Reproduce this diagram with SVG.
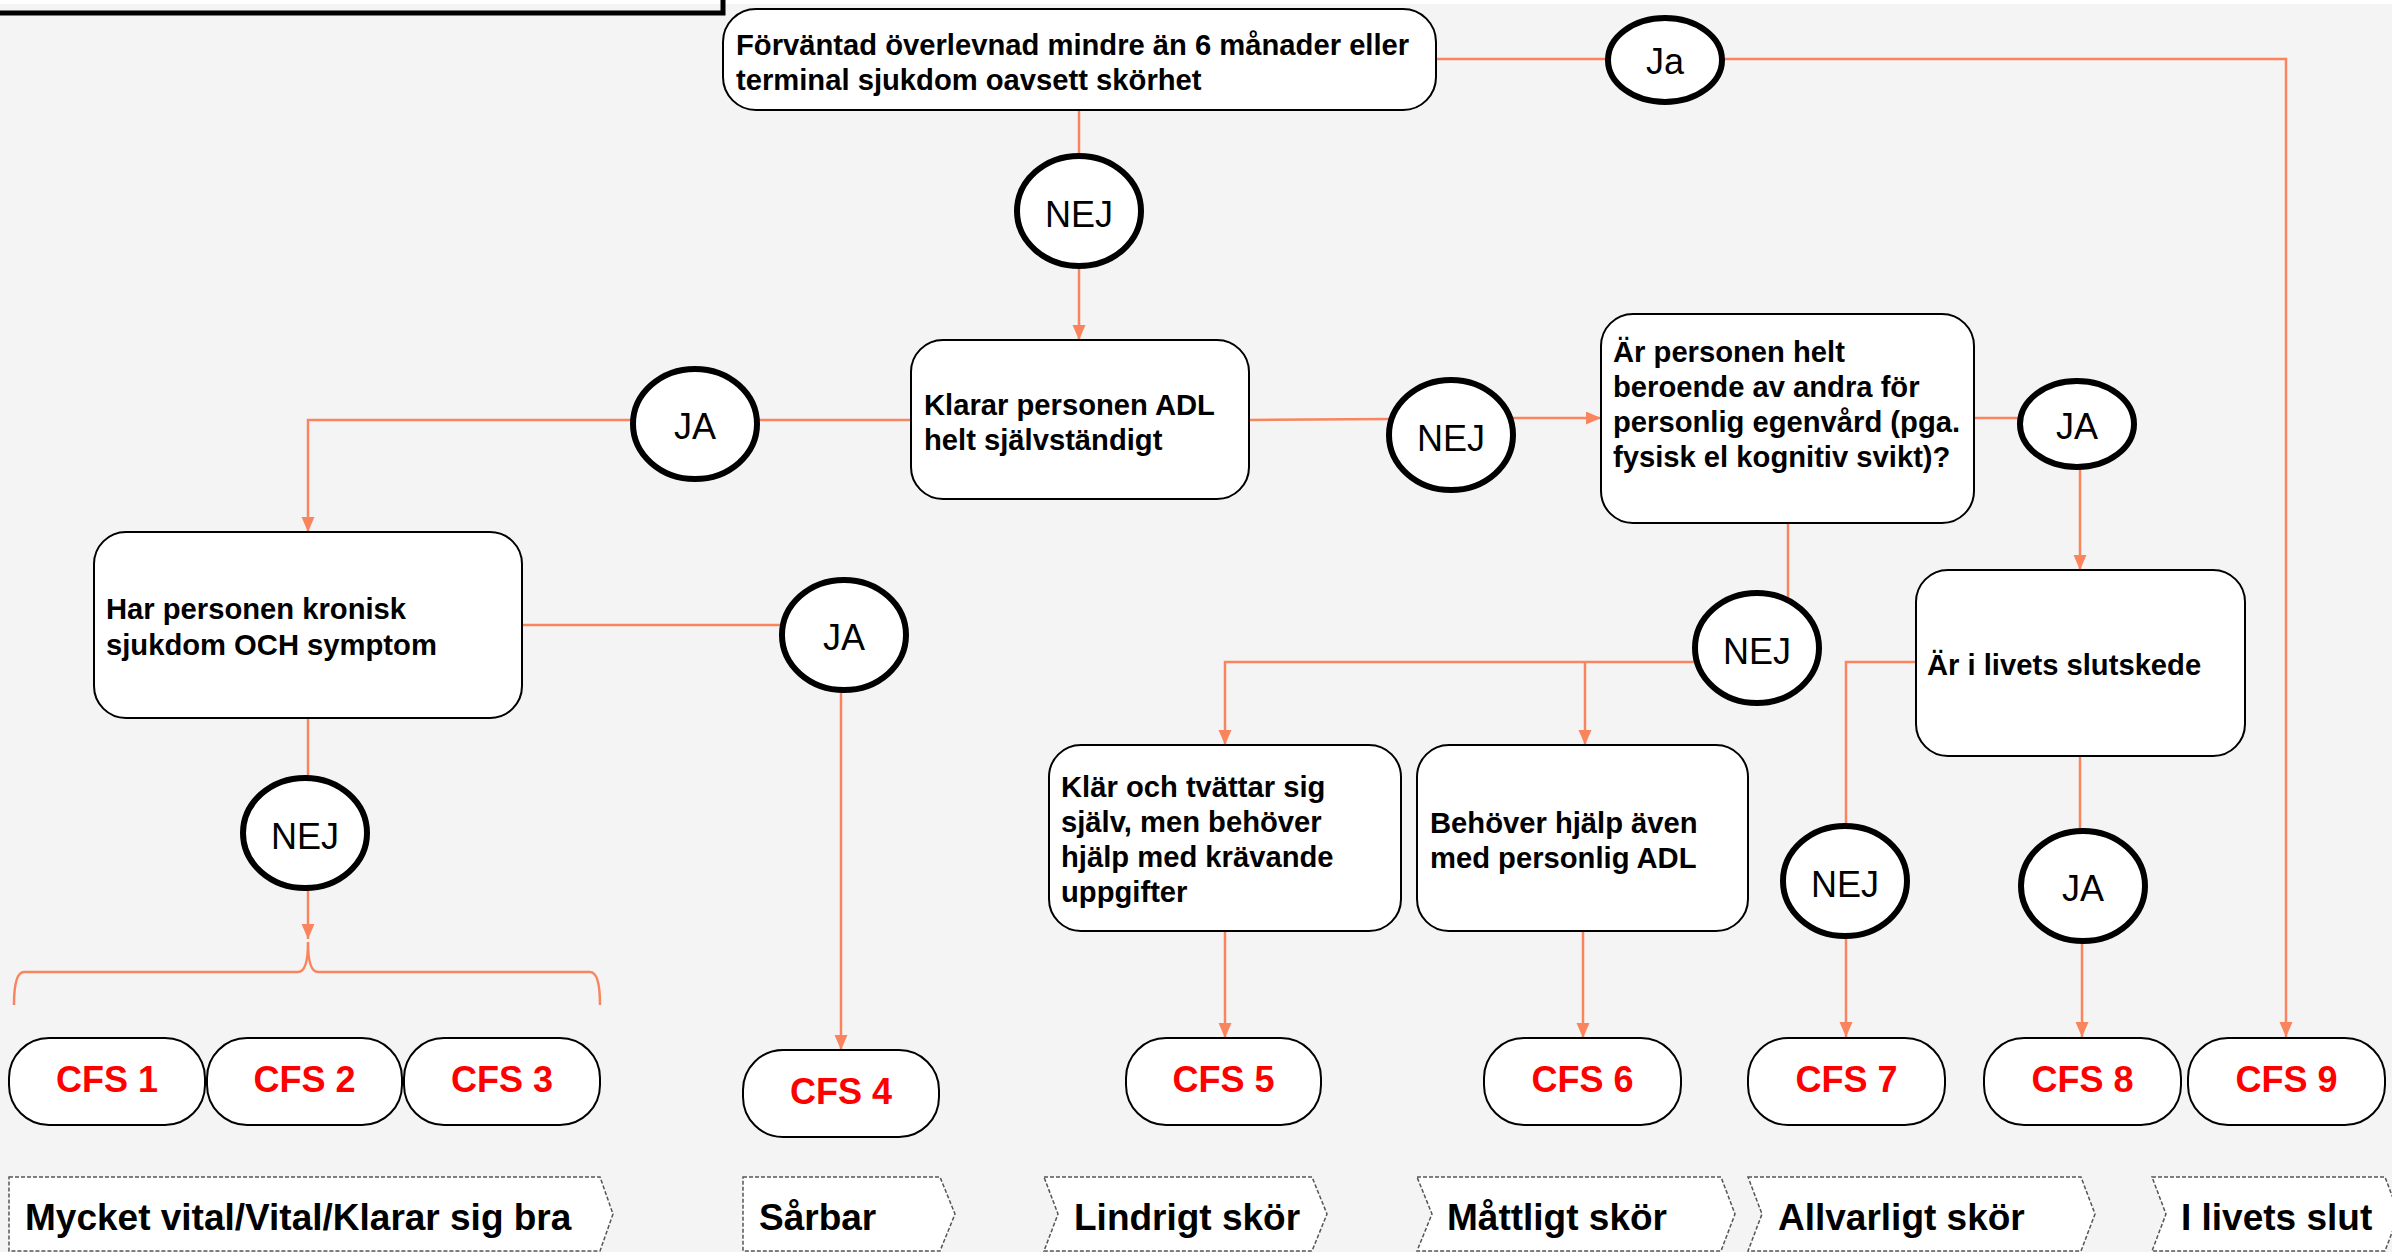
<svg xmlns="http://www.w3.org/2000/svg" width="2392" height="1252" viewBox="0 0 2392 1252">
<defs>
<marker id="arr" markerUnits="userSpaceOnUse" markerWidth="16" markerHeight="14" refX="15" refY="6.5" orient="auto">
<path d="M0,0 L15,6.5 L0,13 z" fill="#f9845d"/>
</marker>
<style>
.bg{fill:#f4f4f4}
.box{fill:#fff;stroke:#000;stroke-width:2}
.cir{fill:#fff;stroke:#000;stroke-width:6}
.t{font-family:"Liberation Sans",Arial,sans-serif;font-weight:bold;font-size:29.2px;fill:#000}
.ct{font-family:"Liberation Sans",Arial,sans-serif;font-size:36px;fill:#000;text-anchor:middle}
.cfs{font-family:"Liberation Sans",Arial,sans-serif;font-weight:bold;font-size:36px;fill:#ff0000;text-anchor:middle}
.lab{fill:#fff;stroke:#555;stroke-width:1.5;stroke-dasharray:4 2}
.lt{font-family:"Liberation Sans",Arial,sans-serif;font-weight:bold;font-size:37px;fill:#000}
.c{fill:none;stroke:#f9845d;stroke-width:2.5}
.ca{fill:none;stroke:#f9845d;stroke-width:2.5;marker-end:url(#arr)}
</style>
</defs>
<rect class="bg" x="0" y="0" width="2392" height="1252"/>
<rect x="0" y="0" width="2392" height="4" fill="#fff"/>
<rect x="-20" y="-40" width="743" height="53" fill="none" stroke="#000" stroke-width="5"/>

<g id="connectors">
<path class="c" d="M1079,110 V156"/>
<path class="ca" d="M1079,267 V340"/>
<path class="c" d="M1436,59 H1607"/>
<path class="ca" d="M1723,59 H2286 V1037"/>
<path class="c" d="M911,420 H757"/>
<path class="ca" d="M632,420 H308 V532"/>
<path class="c" d="M1249,420 L1390,419"/>
<path class="ca" d="M1512,418 H1601"/>
<path class="c" d="M1974,418 H2021"/>
<path class="ca" d="M2080,467 V570"/>
<path class="c" d="M1788,523 V600"/>
<path class="ca" d="M1697,662 H1225 V745"/>
<path class="ca" d="M1585,662 V745"/>
<path class="c" d="M1916,662 H1846 V826"/>
<path class="ca" d="M1846,936 V1037"/>
<path class="c" d="M2080,756 V831"/>
<path class="ca" d="M2082,941 V1037"/>
<path class="c" d="M522,625 H782"/>
<path class="ca" d="M841,690 V1050"/>
<path class="c" d="M308,718 V778"/>
<path class="ca" d="M308,888 V939"/>
<path class="ca" d="M1225,931 V1038"/>
<path class="ca" d="M1583,931 V1038"/>
<path class="c" stroke-width="2" d="M14,1005 Q14,972 24,972 L298,972 Q308,972 308,942 Q308,972 318,972 L590,972 Q600,972 600,1005"/>
</g>

<g id="n-forvantad">
<rect class="box" x="723" y="9" width="713" height="101" rx="33"/>
<text class="t" x="736" y="54.5">Förväntad överlevnad mindre än 6 månader eller</text>
<text class="t" x="736" y="89.5">terminal sjukdom oavsett skörhet</text>
</g>
<g id="c-ja-top"><ellipse class="cir" cx="1665" cy="60" rx="57" ry="42"/><text class="ct" x="1665" y="74">Ja</text></g>
<g id="c-nej1"><ellipse class="cir" cx="1079" cy="211" rx="62" ry="55"/><text class="ct" x="1079" y="227">NEJ</text></g>

<g id="n-klarar">
<rect class="box" x="911" y="340" width="338" height="159" rx="32"/>
<text class="t" x="924" y="414.5">Klarar personen ADL</text>
<text class="t" x="924" y="449.5">helt självständigt</text>
</g>
<g id="c-ja-left"><ellipse class="cir" cx="695" cy="424" rx="62" ry="55"/><text class="ct" x="695" y="439">JA</text></g>
<g id="c-nej2"><ellipse class="cir" cx="1451" cy="435" rx="62" ry="55"/><text class="ct" x="1451" y="451">NEJ</text></g>

<g id="n-beroende">
<rect class="box" x="1601" y="314" width="373" height="209" rx="32"/>
<text class="t" x="1613" y="361.5">Är personen helt</text>
<text class="t" x="1613" y="396.5">beroende av andra för</text>
<text class="t" x="1613" y="431.5">personlig egenvård (pga.</text>
<text class="t" x="1613" y="466.5">fysisk el kognitiv svikt)?</text>
</g>
<g id="c-ja-right"><ellipse class="cir" cx="2077" cy="424" rx="57" ry="43"/><text class="ct" x="2077" y="439">JA</text></g>

<g id="n-kronisk">
<rect class="box" x="94" y="532" width="428" height="186" rx="32"/>
<text class="t" x="106" y="618.5">Har personen kronisk</text>
<text class="t" x="106" y="654.5">sjukdom OCH symptom</text>
</g>
<g id="c-ja-mid"><ellipse class="cir" cx="844" cy="635" rx="62" ry="55"/><text class="ct" x="844" y="650">JA</text></g>
<g id="c-nej-left"><ellipse class="cir" cx="305" cy="833" rx="62" ry="55"/><text class="ct" x="305" y="849">NEJ</text></g>

<g id="c-nej3"><ellipse class="cir" cx="1757" cy="648" rx="62" ry="55"/><text class="ct" x="1757" y="664">NEJ</text></g>
<g id="n-slutskede">
<rect class="box" x="1916" y="570" width="329" height="186" rx="32"/>
<text class="t" x="1927" y="674.5">Är i livets slutskede</text>
</g>

<g id="n-klar">
<rect class="box" x="1049" y="745" width="352" height="186" rx="32"/>
<text class="t" x="1061" y="796.5">Klär och tvättar sig</text>
<text class="t" x="1061" y="831.5">själv, men behöver</text>
<text class="t" x="1061" y="866.5">hjälp med krävande</text>
<text class="t" x="1061" y="901.5">uppgifter</text>
</g>
<g id="n-behover">
<rect class="box" x="1417" y="745" width="331" height="186" rx="32"/>
<text class="t" x="1430" y="832.5">Behöver hjälp även</text>
<text class="t" x="1430" y="867.5">med personlig ADL</text>
</g>
<g id="c-nej4"><ellipse class="cir" cx="1845" cy="881" rx="62" ry="55"/><text class="ct" x="1845" y="897">NEJ</text></g>
<g id="c-ja-bottom"><ellipse class="cir" cx="2083" cy="886" rx="62" ry="55"/><text class="ct" x="2083" y="901">JA</text></g>

<g id="cfs1"><rect class="box" x="9" y="1038" width="196" height="87" rx="40"/><text class="cfs" x="107" y="1091.5">CFS 1</text></g>
<g id="cfs2"><rect class="box" x="207" y="1038" width="195" height="87" rx="40"/><text class="cfs" x="304.5" y="1091.5">CFS 2</text></g>
<g id="cfs3"><rect class="box" x="404" y="1038" width="196" height="87" rx="40"/><text class="cfs" x="502" y="1091.5">CFS 3</text></g>
<g id="cfs4"><rect class="box" x="743" y="1050" width="196" height="87" rx="40"/><text class="cfs" x="841" y="1103.5">CFS 4</text></g>
<g id="cfs5"><rect class="box" x="1126" y="1038" width="195" height="87" rx="40"/><text class="cfs" x="1223.5" y="1091.5">CFS 5</text></g>
<g id="cfs6"><rect class="box" x="1484" y="1038" width="197" height="87" rx="40"/><text class="cfs" x="1582.5" y="1091.5">CFS 6</text></g>
<g id="cfs7"><rect class="box" x="1748" y="1038" width="197" height="87" rx="40"/><text class="cfs" x="1846.5" y="1091.5">CFS 7</text></g>
<g id="cfs8"><rect class="box" x="1984" y="1038" width="197" height="87" rx="40"/><text class="cfs" x="2082.5" y="1091.5">CFS 8</text></g>
<g id="cfs9"><rect class="box" x="2188" y="1038" width="197" height="87" rx="40"/><text class="cfs" x="2286.5" y="1091.5">CFS 9</text></g>

<g id="lab1"><polygon class="lab" points="9,1177 600,1177 613,1214 600,1251 9,1251"/><text class="lt" x="25" y="1230">Mycket vital/Vital/Klarar sig bra</text></g>
<g id="lab2"><polygon class="lab" points="743,1177 940,1177 955,1214 940,1251 743,1251"/><text class="lt" x="759" y="1230">Sårbar</text></g>
<g id="lab3"><polygon class="lab" points="1044,1177 1312,1177 1327,1214 1312,1251 1044,1251 1058,1214"/><text class="lt" x="1074" y="1230">Lindrigt skör</text></g>
<g id="lab4"><polygon class="lab" points="1417,1177 1721,1177 1735,1214 1721,1251 1417,1251 1432,1214"/><text class="lt" x="1447" y="1230">Måttligt skör</text></g>
<g id="lab5"><polygon class="lab" points="1748,1177 2081,1177 2095,1214 2081,1251 1748,1251 1762,1214"/><text class="lt" x="1778" y="1230">Allvarligt skör</text></g>
<g id="lab6"><polygon class="lab" points="2152,1177 2385,1177 2399,1214 2385,1251 2152,1251 2166,1214"/><text class="lt" x="2181" y="1230">I livets slut</text></g>
</svg>
